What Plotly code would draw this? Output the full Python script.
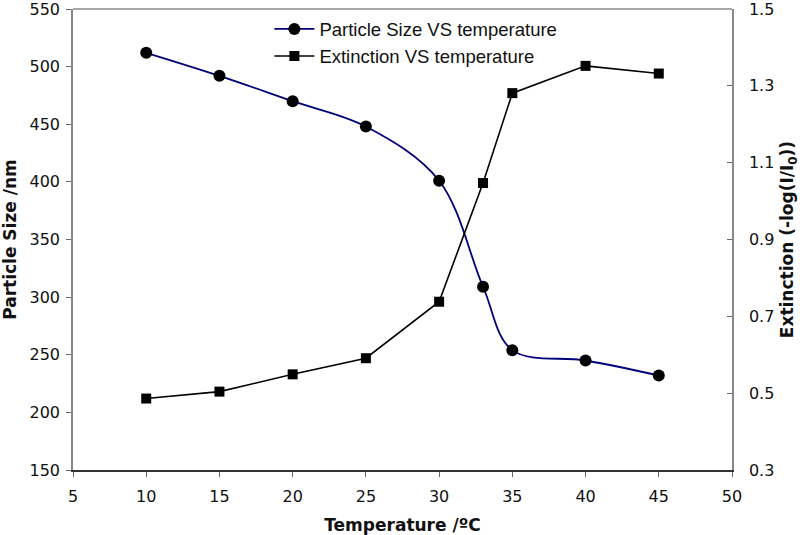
import plotly.graph_objects as go

temperature = [10, 15, 20, 25, 30, 33, 35, 40, 45]
particle_size = [512, 492, 470, 448, 401, 309, 254, 245, 232]
extinction = [0.486, 0.504, 0.549, 0.591, 0.738, 1.047, 1.281, 1.352, 1.332]

x_ticks = [5, 10, 15, 20, 25, 30, 35, 40, 45, 50]
left_ticks = [150, 200, 250, 300, 350, 400, 450, 500, 550]
right_ticks = [0.3, 0.5, 0.7, 0.9, 1.1, 1.3, 1.5]

tick_font = dict(family="DejaVu Sans, sans-serif", size=16, color="#111")
title_font = dict(family="DejaVu Sans, sans-serif", size=17, color="#111")
legend_font = dict(family="Liberation Sans, Arial, sans-serif", size=18.5, color="#111")

fig = go.Figure()
fig.add_trace(go.Scatter(
    x=temperature, y=particle_size, name="Particle Size VS temperature",
    mode="lines+markers",
    line=dict(color="#00007a", width=1.8, shape="spline", smoothing=1.0),
    marker=dict(symbol="circle", size=12, color="black"),
    yaxis="y",
))
fig.add_trace(go.Scatter(
    x=temperature, y=extinction, name="Extinction VS temperature",
    mode="lines+markers",
    line=dict(color="black", width=1.6),
    marker=dict(symbol="square", size=10, color="black"),
    yaxis="y2",
))

axis_common = dict(
    showgrid=False, zeroline=False, showline=True, linecolor="#888888", linewidth=1.5,
    tickfont=tick_font, ticklen=5, tickcolor="#666", tickwidth=1, automargin=False,
    ticklabeloverflow="allow",
)

fig.update_layout(
    width=800, height=535,
    margin=dict(l=73, r=68, t=9, b=65),
    paper_bgcolor="white", plot_bgcolor="white",
    showlegend=True,
    legend=dict(
        x=0.298, y=0.997, xanchor="left", yanchor="top",
        bgcolor="rgba(0,0,0,0)", font=legend_font,
        itemwidth=40, tracegroupgap=0,
    ),
    xaxis=dict(
        range=[5, 50], tickvals=x_ticks, ticks="outside", ticklabelstandoff=6,
        title=dict(text="<b>Temperature /ºC</b>", font=title_font, standoff=14),
        **{**axis_common, "linecolor": "#333333"},
    ),
    yaxis=dict(
        range=[150, 550], tickvals=left_ticks, ticks="outside", ticklabelstandoff=3,
        title=dict(text="<b>Particle Size /nm</b>", font=title_font, standoff=10),
        **axis_common,
    ),
    yaxis2=dict(
        range=[0.3, 1.5], tickvals=right_ticks, tickformat=".1f", ticks="inside",
        overlaying="y", side="right", ticklabelstandoff=12,
        title=dict(text="<b>Extinction (-log(I/I<sub>0</sub>))</b>", font=title_font, standoff=8),
        **axis_common,
    ),
)

# top border of the plot area
fig.add_shape(type="line", xref="paper", yref="paper", x0=0, x1=1, y0=1, y1=1,
              line=dict(color="#888888", width=1.5))

fig.write_html("out.html", config={"displayModeBar": False},
               post_script="document.body.style.margin='0';")
